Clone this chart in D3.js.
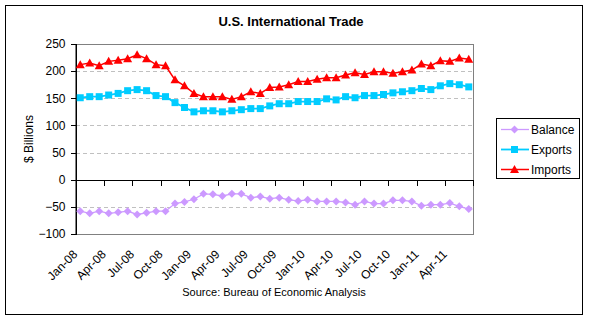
<!DOCTYPE html>
<html>
<head>
<meta charset="utf-8">
<script src="https://cdn.jsdelivr.net/npm/d3@7"></script>
<style>
  body { margin: 0; background: #fff; }
  svg { display: block; font-family: Arial, "Liberation Sans", sans-serif; }
  .grid line { stroke: #c0c0c0; stroke-dasharray: 4 3; shape-rendering: crispEdges; }
  .frame { fill: none; shape-rendering: crispEdges; }
</style>
</head>
<body>
<div id="chart"></div>
<script>
// monthly values, $ billions
const months = [
  'Jan-08', 'Feb-08', 'Mar-08', 'Apr-08', 'May-08', 'Jun-08', 'Jul-08', 'Aug-08', 'Sep-08', 'Oct-08', 'Nov-08', 'Dec-08',
  'Jan-09', 'Feb-09', 'Mar-09', 'Apr-09', 'May-09', 'Jun-09', 'Jul-09', 'Aug-09', 'Sep-09', 'Oct-09', 'Nov-09', 'Dec-09',
  'Jan-10', 'Feb-10', 'Mar-10', 'Apr-10', 'May-10', 'Jun-10', 'Jul-10', 'Aug-10', 'Sep-10', 'Oct-10', 'Nov-10', 'Dec-10',
  'Jan-11', 'Feb-11', 'Mar-11', 'Apr-11', 'May-11', 'Jun-11'
];
const balance = [
  -58, -62, -58, -62, -60, -58, -64, -61, -58, -58, -44, -41,
  -36, -26, -27, -30, -26, -26, -33, -31, -35, -33, -37, -39,
  -37, -40, -40, -40, -42, -46, -40, -44, -44, -38, -38, -40,
  -48, -46, -46, -43, -49, -54
];
const exportsUS = [
  151, 153, 153, 156, 159, 164, 166, 164, 155, 153, 142, 133,
  125, 127, 127, 125, 127, 129, 131, 131, 136, 140, 140, 144,
  144, 144, 149, 147, 153, 151, 155, 155, 157, 160, 162, 164,
  168, 166, 173, 177, 175, 171
];
const importsUS = [
  212, 215, 210, 218, 220, 223, 230, 223, 212, 210, 184, 173,
  159, 153, 153, 153, 148, 153, 162, 159, 170, 171, 175, 181,
  181, 185, 188, 188, 193, 197, 194, 199, 199, 196, 199, 202,
  213, 210, 219, 218, 224, 222
];
const yTicks = [-100, -50, 0, 50, 100, 150, 200, 250];

const series = [
  { name: 'Balance', values: balance, color: '#cc99ff', width: 1.3, marker: 'diamond' },
  { name: 'Exports', values: exportsUS, color: '#00ccff', width: 1.8, marker: 'square' },
  { name: 'Imports', values: importsUS, color: '#ff0000', width: 1.5, marker: 'triangle' }
];

const W = 590, H = 321;
const plot = { left: 75.5, right: 473.5, top: 44, bottom: 234 };

const markerPath = {
  diamond: 'M0,-4L4,0L0,4L-4,0Z',
  square: 'M-3.5,-3.5H3.5V3.5H-3.5Z',
  triangle: 'M0,-4.5L4.5,3.5H-4.5Z'
};

const svg = d3.select('#chart').append('svg')
  .attr('width', W)
  .attr('height', H);

svg.append('rect')
  .attr('class', 'frame')
  .attr('x', 5.5).attr('y', 5.5)
  .attr('width', 577).attr('height', 309)
  .attr('stroke', '#000');

svg.append('text')
  .attr('x', 291).attr('y', 26)
  .attr('text-anchor', 'middle')
  .style('font-size', '13px')
  .style('font-weight', 'bold')
  .text('U.S. International Trade');

const x = d3.scaleBand()
  .domain(months)
  .range([plot.left, plot.right])
  .padding(0);
const cx = d => x(d) + x.bandwidth() / 2;

const y = d3.scaleLinear()
  .domain([-100, 250])
  .range([plot.bottom, plot.top]);

// dashed gridlines
svg.append('g')
  .attr('class', 'grid')
  .selectAll('line')
  .data(yTicks.filter(v => v !== 0 && v !== -100 && v !== 250))
  .join('line')
  .attr('x1', plot.left).attr('x2', plot.right)
  .attr('y1', d => Math.round(y(d)) + 0.5)
  .attr('y2', d => Math.round(y(d)) + 0.5);

// plot area border
svg.append('rect')
  .attr('class', 'frame')
  .attr('x', plot.left).attr('y', plot.top + 0.5)
  .attr('width', plot.right - plot.left - 0.5)
  .attr('height', plot.bottom - plot.top)
  .attr('stroke', '#808080');

// value axis
const yAxis = svg.append('g')
  .attr('transform', `translate(${plot.left},0)`)
  .call(d3.axisLeft(y).tickValues(yTicks).tickSize(5).tickPadding(5));
yAxis.select('.domain').attr('stroke', '#000').attr('shape-rendering', 'crispEdges');
yAxis.selectAll('.tick line').attr('shape-rendering', 'crispEdges');
yAxis.selectAll('.tick text')
  .style('font-size', '12px')
  .attr('fill', '#000');

svg.append('text')
  .attr('transform', `translate(33,${(plot.top + plot.bottom) / 2}) rotate(-90)`)
  .attr('text-anchor', 'middle')
  .style('font-size', '12px')
  .text('$ Billions');

// category axis crossing at zero, ticks every third month
const y0 = Math.round(y(0)) + 0.5;
const tickMonths = months.filter((m, i) => i % 3 === 0);
const xAxis = svg.append('g').attr('transform', `translate(0,${y0})`);
xAxis.append('line')
  .attr('x1', plot.left).attr('x2', plot.right)
  .attr('stroke', '#000')
  .attr('shape-rendering', 'crispEdges');
xAxis.selectAll('.tk')
  .data(tickMonths.concat(['end']))
  .join('line')
  .attr('class', 'tk')
  .attr('x1', d => d === 'end' ? plot.right - 0.5 : Math.round(x(d)) + 0.5)
  .attr('x2', d => d === 'end' ? plot.right - 0.5 : Math.round(x(d)) + 0.5)
  .attr('y1', 0).attr('y2', 5)
  .attr('stroke', '#000')
  .attr('shape-rendering', 'crispEdges');

svg.append('g')
  .selectAll('text')
  .data(tickMonths)
  .join('text')
  .attr('transform', d => `translate(${cx(d) - 2},255) rotate(-45)`)
  .attr('text-anchor', 'end')
  .style('font-size', '12px')
  .text(d => d);

// series lines and markers
const line = d3.line()
  .x((v, i) => cx(months[i]))
  .y(v => y(v));

series.forEach(s => {
  const g = svg.append('g');
  g.append('path')
    .datum(s.values)
    .attr('fill', 'none')
    .attr('stroke', s.color)
    .attr('stroke-width', s.width)
    .attr('d', line);
  g.selectAll('path.mk')
    .data(s.values)
    .join('path')
    .attr('class', 'mk')
    .attr('d', markerPath[s.marker])
    .attr('transform', (v, i) => `translate(${cx(months[i])},${y(v)})`)
    .attr('fill', s.color);
});

svg.append('text')
  .attr('x', 274).attr('y', 296)
  .attr('text-anchor', 'middle')
  .style('font-size', '11px')
  .text('Source: Bureau of Economic Analysis');

// legend
const legend = svg.append('g');
legend.append('rect')
  .attr('class', 'frame')
  .attr('x', 496.5).attr('y', 118.5)
  .attr('width', 83).attr('height', 60)
  .attr('stroke', '#000');

const rows = legend.selectAll('g.row')
  .data(series)
  .join('g')
  .attr('class', 'row')
  .attr('transform', (s, i) => `translate(0,${129.5 + i * 20})`);
rows.append('line')
  .attr('x1', 501).attr('x2', 529)
  .attr('stroke', s => s.color)
  .attr('stroke-width', s => s.width);
rows.append('path')
  .attr('d', s => markerPath[s.marker])
  .attr('transform', 'translate(514.5,0)')
  .attr('fill', s => s.color);
rows.append('text')
  .attr('x', 531).attr('dy', '0.35em')
  .style('font-size', '12px')
  .text(s => s.name);
</script>
</body>
</html>
